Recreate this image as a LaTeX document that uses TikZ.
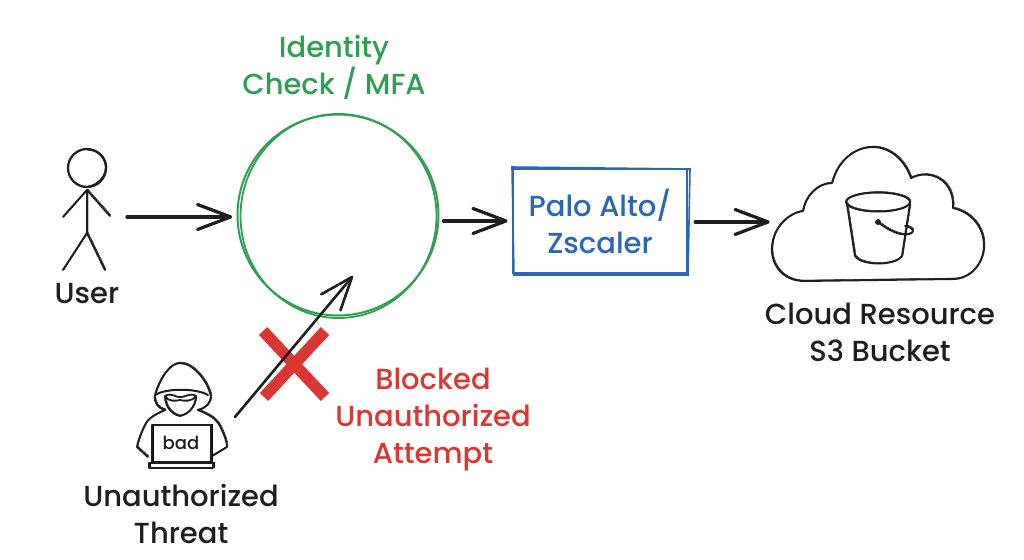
\documentclass[tikz,border=0pt]{standalone}
\usepackage{fontspec}
\setmainfont{Poppins}[UprightFont=* Medium]
\usetikzlibrary{arrows.meta}
\definecolor{ink}{HTML}{1E1E1E}
\definecolor{sgreen}{HTML}{2F9E53}
\definecolor{sblue}{HTML}{2B68B4}
\definecolor{sred}{HTML}{DA3732}
\pgfdeclarearrow{
  name=OpenVee,
  setup code={\pgfarrowssettipend{0pt}\pgfarrowssetlineend{-1pt}\pgfarrowssetvisualbackend{-20pt}\pgfarrowssetbackend{-33pt}},
  drawing code={\pgfsetdash{}{0pt}\pgfsetroundcap\pgfsetroundjoin
    \pgfpathmoveto{\pgfpoint{-33pt}{12.5pt}}\pgfpathlineto{\pgfpointorigin}\pgfpathlineto{\pgfpoint{-33pt}{-12.5pt}}\pgfusepathqstroke},
  defaults={}
}
\tikzset{
  x=1pt,y=-1pt,
  lbl/.style={font=\fontsize{29}{37}\selectfont,align=center,inner sep=0pt,text=ink},
  sketch/.style={draw=ink,line width=2pt,line cap=round,line join=round},
  twin/.style={preaction={draw,transform canvas={shift={(1pt,0.9pt)}}}},
  flow/.style={draw=ink,line width=3.2pt,line cap=round,line join=round,twin,-OpenVee},
  probe/.style={draw=ink,line width=2.6pt,line cap=round,line join=round,twin,-OpenVee},
}
\begin{document}
\begin{tikzpicture}
\useasboundingbox (0,0) rectangle (1024,559);
\fill[white] (0,0) rectangle (1024,559);

% Identity check circle
\node[circle,draw=sgreen,line width=2pt,minimum size=201pt,inner sep=0pt] (check) at (338,215) {};
\draw[sgreen,line width=1.8pt] (338.5,216) ellipse [x radius=98,y radius=102];
\node[lbl,text=sgreen] (checklbl) at (334,67) {Identity\\Check / MFA};

% Gateway box
\node[draw=sblue,line width=2.2pt,minimum width=174pt,minimum height=104pt,inner sep=0pt,
  lbl,text=sblue] (gate) at (600,221) {Palo Alto/\\Zscaler};
\draw[sblue,line width=1.6pt] (511,167) -- (690,169) -- (688,275) -- (514,275) -- (512,168);

% User
\draw[sketch,line width=2.2pt] (87,168) circle [radius=19];
\draw[sketch] (88,149.5) .. controls (100,150) and (107,160) .. (106,168) .. controls (105,180) and (94,187) .. (85,187);
\coordinate (neck) at (87,190);
\coordinate (hip) at (87,233);
\draw[sketch,twin] (neck) -- (hip) (neck) -- (63,217) (neck) -- (110,216) (hip) -- (63,270) (hip) -- (105,270);
\node[lbl] (userlbl) at (87,294) {User};
\coordinate (userport) at (127,217);

% Threat figure
\draw[sketch,twin] (155,395) .. controls (160,378) and (170,363) .. (180,363) .. controls (194,363) and (208,382) .. (211,396);
\draw[sketch] (155,395) .. controls (166,388) and (196,388) .. (208,395);
\draw[sketch,twin] (155,395) .. controls (154,403) and (158,408) .. (165,410) (211,396) .. controls (211,403) and (206,408) .. (198,410);
\draw[sketch,twin] (165,397) .. controls (166,408) and (172,414) .. (180,416) .. controls (188,414) and (195,408) .. (196,397);
\draw[sketch,line width=1.8pt] (165,396) .. controls (172,392) and (176,398) .. (180,397) .. controls (184,398) and (190,392) .. (196,396) .. controls (192,402) and (184,401) .. (180,400) .. controls (176,401) and (168,402) .. (165,396);
\draw[sketch,twin] (165,410) .. controls (156,414) and (148,418) .. (145,425) .. controls (140,435) and (138,442) .. (137,447) -- (148,457);
\draw[sketch,twin] (198,410) .. controls (208,414) and (216,418) .. (220,426) .. controls (225,436) and (227,442) .. (227,447) -- (212,456);
\draw[sketch,twin] (152,425) -- (211,425) -- (211,462) -- (152,462) -- cycle;
\draw[sketch,twin] (149,463) -- (213,463) -- (213,468) -- (149,468) -- cycle;
\node[font=\fontsize{18}{18}\selectfont,text=ink,inner sep=0pt] (laptop) at (181,443) {bad};
\node[lbl] (threatlbl) at (181,514) {Unauthorized\\Threat};
\coordinate (threatport) at (235,417);
\coordinate (checkinner) at (352,277);

% Cloud with bucket
\draw[sketch,twin] (803,281)
  .. controls (780,280) and (771,262) .. (772,247)
  .. controls (773,228) and (788,213) .. (803,211)
  .. controls (805,197) and (817,183) .. (832,183)
  .. controls (838,160) and (855,147) .. (873,147)
  .. controls (890,147) and (905,160) .. (911,178)
  .. controls (930,168) and (955,180) .. (953,208)
  .. controls (972,212) and (984,228) .. (984,245)
  .. controls (984,264) and (970,279) .. (953,279)
  -- cycle;
\coordinate (cloud) at (772,222);
\draw[sketch,twin] (878,202) ellipse [x radius=32,y radius=9.5];
\draw[sketch,twin] (847,204) -- (855,256) .. controls (862,266) and (895,266) .. (902,256) -- (910,204);
\draw[sketch,twin] (878,222) .. controls (888,230) and (900,236) .. (909,234) .. controls (916,232) and (913,227) .. (905,226);
\fill[ink] (878,222) circle [radius=3];
\node[lbl] (cloudlbl) at (880,332) {Cloud Resource\\S3 Bucket};

% Block mark and connectors
\draw[sred,line width=11.5pt] (263,331) -- (325,397);
\draw[sred,line width=11.5pt] (325,331) -- (264,397);
\node[lbl,text=sred] (blocklbl) at (433,420) {Blocked\\Unauthorized\\Attempt};

\draw[flow,shorten >=6pt] (userport) -- (userport -| check.west);
\draw[flow,shorten <=4pt,shorten >=6pt] (check.east |- gate.west) -- (gate.west);
\draw[flow,shorten <=7pt,shorten >=4pt] (gate.east |- cloud) -- (cloud);
\draw[probe] (threatport) -- (checkinner);
\end{tikzpicture}
\end{document}
